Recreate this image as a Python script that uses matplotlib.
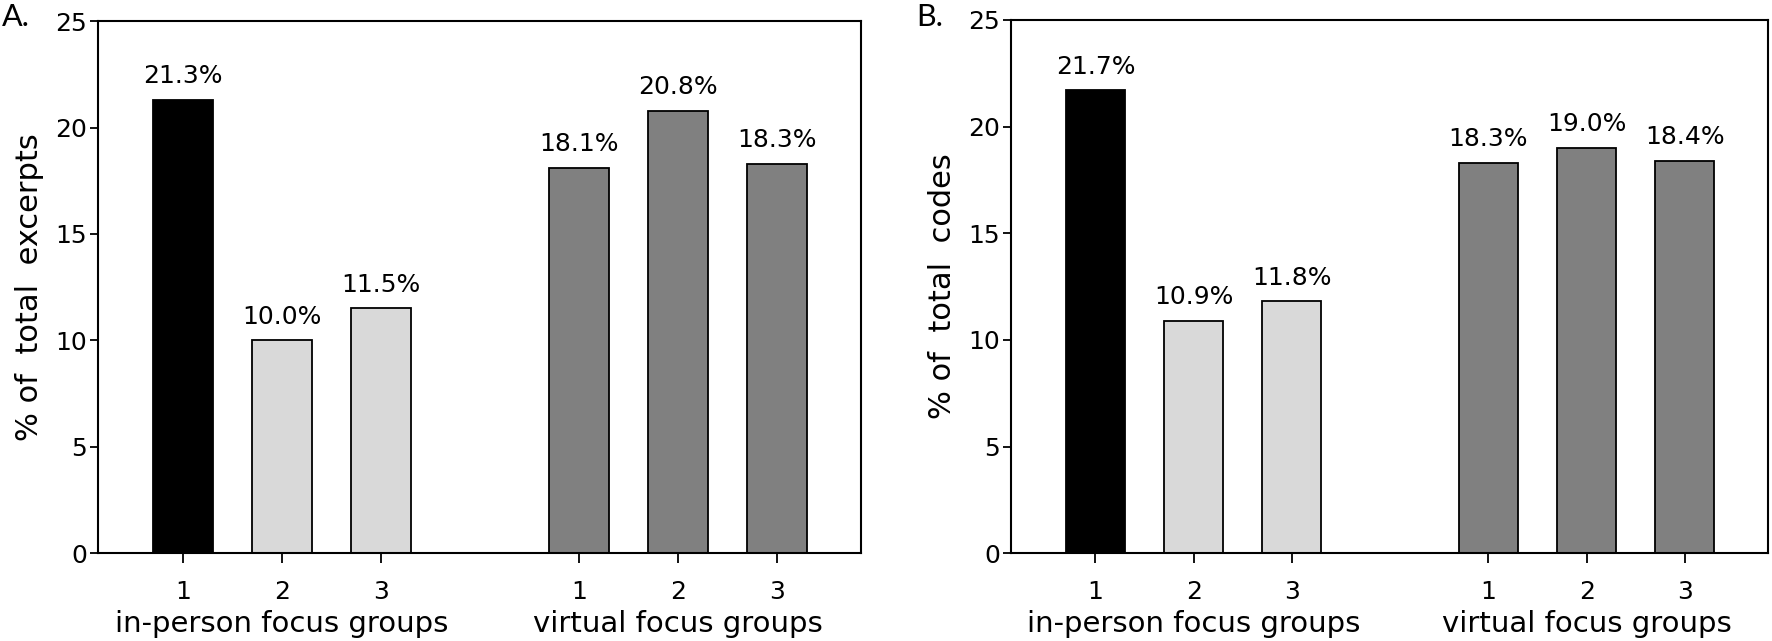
import matplotlib
matplotlib.use("Agg")
import matplotlib.pyplot as plt

plt.rcParams['font.family'] = ['DejaVu Sans']

# bar positions: two groups of three, gap of one slot between groups
positions = [1, 2, 3, 5, 6, 7]
tick_labels = ["1", "2", "3", "1", "2", "3"]
bar_colors = ["#000000", "#d9d9d9", "#d9d9d9", "#808080", "#808080", "#808080"]
group_labels = ["in-person focus groups", "virtual focus groups"]
group_centers = [2, 6]

excerpts_pct = [21.3, 10.0, 11.5, 18.1, 20.8, 18.3]
codes_pct = [21.7, 10.9, 11.8, 18.3, 19.0, 18.4]

fig = plt.figure(figsize=(17.72, 6.41), dpi=100)
ax_a = fig.add_axes([0.0553, 0.137, 0.4306, 0.830])
ax_b = fig.add_axes([0.5705, 0.137, 0.4275, 0.832])


def draw_panel(ax, values, ylabel):
    ax.bar(positions, values, width=0.6, color=bar_colors,
           edgecolor="black", linewidth=1.3)
    for x, v in zip(positions, values):
        ax.annotate(f"{v:.1f}%", xy=(x, v), xytext=(0, 12),
                    textcoords="offset points", ha="center", va="baseline",
                    fontsize=18)
    ax.set_xlim(0.14, 7.85)
    ax.set_ylim(0, 25)
    ax.set_yticks([0, 5, 10, 15, 20, 25])
    ax.set_xticks(positions)
    ax.set_xticklabels(tick_labels)
    ax.tick_params(axis="y", direction="out", length=6, width=1.3,
                   pad=2, labelsize=18)
    ax.tick_params(axis="x", direction="out", length=7, width=1.3,
                   pad=12, labelsize=18)
    for s in ax.spines.values():
        s.set_linewidth(1.5)
    for c, lab in zip(group_centers, group_labels):
        ax.annotate(lab, xy=(c, 0), xycoords=("data", "axes fraction"),
                    xytext=(0, -57), textcoords="offset points",
                    ha="center", va="baseline", fontsize=21)
    ax.set_ylabel(ylabel, fontsize=22)
    ax.yaxis.set_label_coords(-0.071, 0.5)


draw_panel(ax_a, excerpts_pct, "% of  total  excerpts")
draw_panel(ax_b, codes_pct, "% of  total  codes")

fig.text(0.001, 0.995, "A.", fontsize=22, family=["Lato", "DejaVu Sans"],
         ha="left", va="top")
fig.text(0.517, 0.995, "B.", fontsize=22, family=["Lato", "DejaVu Sans"],
         ha="left", va="top")

fig.savefig("out.png", dpi=100)
